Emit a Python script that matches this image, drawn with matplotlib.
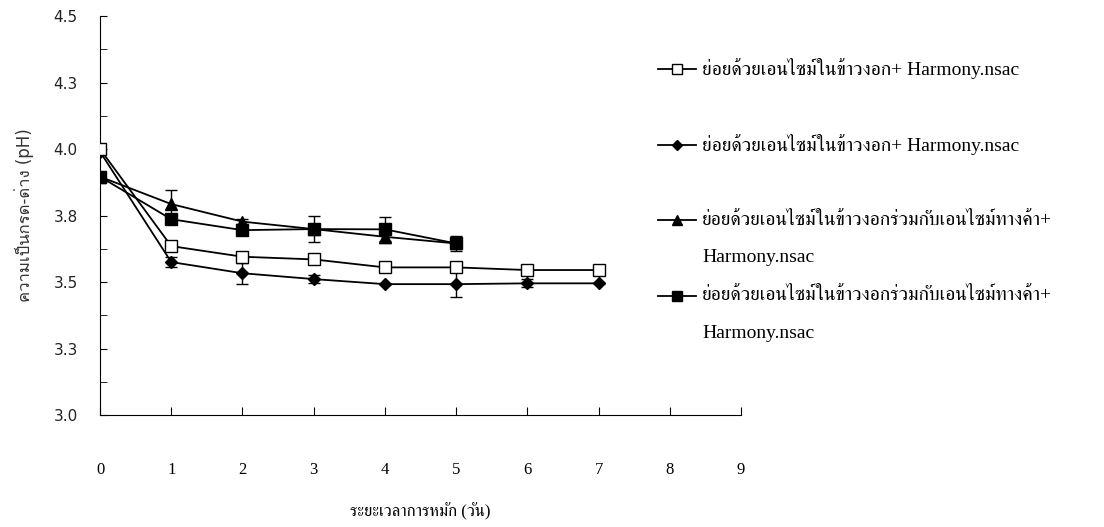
import matplotlib
matplotlib.use("Agg")
import matplotlib.pyplot as plt
from matplotlib import font_manager
from matplotlib.lines import Line2D
from matplotlib.ticker import FixedLocator, MultipleLocator
from fontTools.ttLib import TTFont

# data
days = [0, 1, 2, 3, 4, 5, 6, 7]
ph_open_sq = [4.00, 3.635, 3.595, 3.585, 3.555, 3.555, 3.545, 3.545]
ph_diamond = [3.99, 3.575, 3.533, 3.511, 3.492, 3.492, 3.495, 3.495]
ph_triangle = [3.896, 3.793, 3.727, 3.699, 3.670, 3.645]
ph_fill_sq = [3.896, 3.736, 3.695, 3.699, 3.698, 3.645]

err_open_sq = [0, 0, 0, 0, 0, 0, 0, 0]
err_diamond = [0, 0.02, 0.04, 0.015, 0, 0.048, 0.015, 0]
err_triangle = [0, 0.053, 0.01, 0, 0.025, 0.015]
err_fill_sq = [0, 0, 0, 0.049, 0.045, 0.028]

y_ticks = [3.0, 3.25, 3.5, 3.75, 4.0, 4.25, 4.5]
y_tick_labels = ["3.0", "3.3", "3.5", "3.8", "4.0", "4.3", "4.5"]
x_ticks = list(range(10))

legend_lines = [
    "ย่อยด้วยเอนไซม์ในข้าวงอก+ Harmony.nsac",
    "",
    "ย่อยด้วยเอนไซม์ในข้าวงอก+ Harmony.nsac",
    "",
    "ย่อยด้วยเอนไซม์ในข้าวงอกร่วมกับเอนไซม์ทางค้า+",
    "Harmony.nsac",
    "ย่อยด้วยเอนไซม์ในข้าวงอกร่วมกับเอนไซม์ทางค้า+",
    "Harmony.nsac",
]
x_label = "ระยะเวลาการหมัก (วัน)"
y_label = "ความเป็นกรด-ด่าง (pH)"


def thai_fonts():
    # installed families that actually carry Thai glyphs
    found = []
    for f in font_manager.fontManager.ttflist:
        try:
            cmap = TTFont(f.fname, fontNumber=0, lazy=True).getBestCmap()
        except Exception:
            continue
        if cmap and 0x0E2D in cmap and f.name not in found:
            found.append(f.name)
    return found


thai = thai_fonts()
serif_thai = [n for n in thai if "Serif" in n or "Norasi" in n] + thai
sans_thai = [n for n in thai if "Loma" in n] + [n for n in thai if "Serif" not in n] + thai
serif_fam = ["Liberation Serif"] + serif_thai[:1] + ["DejaVu Sans"]
sans_fam = ["DejaVu Sans"] + sans_thai[:1]

fig = plt.figure(figsize=(11.04, 5.27), dpi=100)
ax = fig.add_axes([0.0906, 0.2125, 0.5806, 0.7571])

line_kw = dict(color="black", linewidth=1.3, capsize=4, elinewidth=1, ecolor="black")
ax.errorbar(days, ph_open_sq, yerr=err_open_sq, marker="s", markersize=8,
            markerfacecolor="white", markeredgecolor="black", zorder=4, **line_kw)
ax.errorbar(days, ph_diamond, yerr=err_diamond, marker="D", markersize=6,
            markerfacecolor="black", markeredgecolor="black", zorder=3, **line_kw)
ax.errorbar(days[:6], ph_triangle, yerr=err_triangle, marker="^", markersize=8,
            markerfacecolor="black", markeredgecolor="black", zorder=3, **line_kw)
ax.errorbar(days[:6], ph_fill_sq, yerr=err_fill_sq, marker="s", markersize=8,
            markerfacecolor="black", markeredgecolor="black", zorder=3, **line_kw)

ax.set_xlim(0, 9)
ax.set_ylim(3.0, 4.5)
ax.spines["top"].set_visible(False)
ax.spines["right"].set_visible(False)
ax.set_xticks(x_ticks)
ax.set_xticklabels([str(t) for t in x_ticks], family=serif_fam, fontsize=12)
ax.yaxis.set_major_locator(FixedLocator(y_ticks))
ax.set_yticklabels(y_tick_labels, family="DejaVu Sans", fontsize=11, color="#222222")
ax.yaxis.set_minor_locator(MultipleLocator(0.125))
ax.tick_params(axis="x", direction="in", length=6, pad=34)
ax.tick_params(axis="y", which="both", direction="in", length=5, pad=16)
ax.set_xlabel(x_label, family=serif_fam, fontsize=12, labelpad=18)
ax.set_ylabel(y_label, family=sans_fam, fontsize=12, labelpad=14, color="#333333")

# legend drawn as a text block with handle lines
markers = [("s", "white", 7), ("D", "black", 5), ("^", "black", 7), ("s", "black", 7)]
handle_rows = [0, 2, 4, 6]
y0, dy = 1 - 69 / 527, 37.8 / 527
for i, txt in enumerate(legend_lines):
    if txt:
        fig.text(0.636, y0 - i * dy, txt, family=serif_fam, fontsize=14, va="center")
for (m, fc, ms), row in zip(markers, handle_rows):
    yy = y0 - row * dy
    fig.add_artist(Line2D([0.596, 0.630], [yy, yy], color="black", linewidth=1.3,
                          transform=fig.transFigure))
    fig.add_artist(Line2D([0.613], [yy], color="black", marker=m, markersize=ms,
                          markerfacecolor=fc, markeredgecolor="black",
                          linestyle="none", transform=fig.transFigure))

fig.savefig("out.png", dpi=100)
